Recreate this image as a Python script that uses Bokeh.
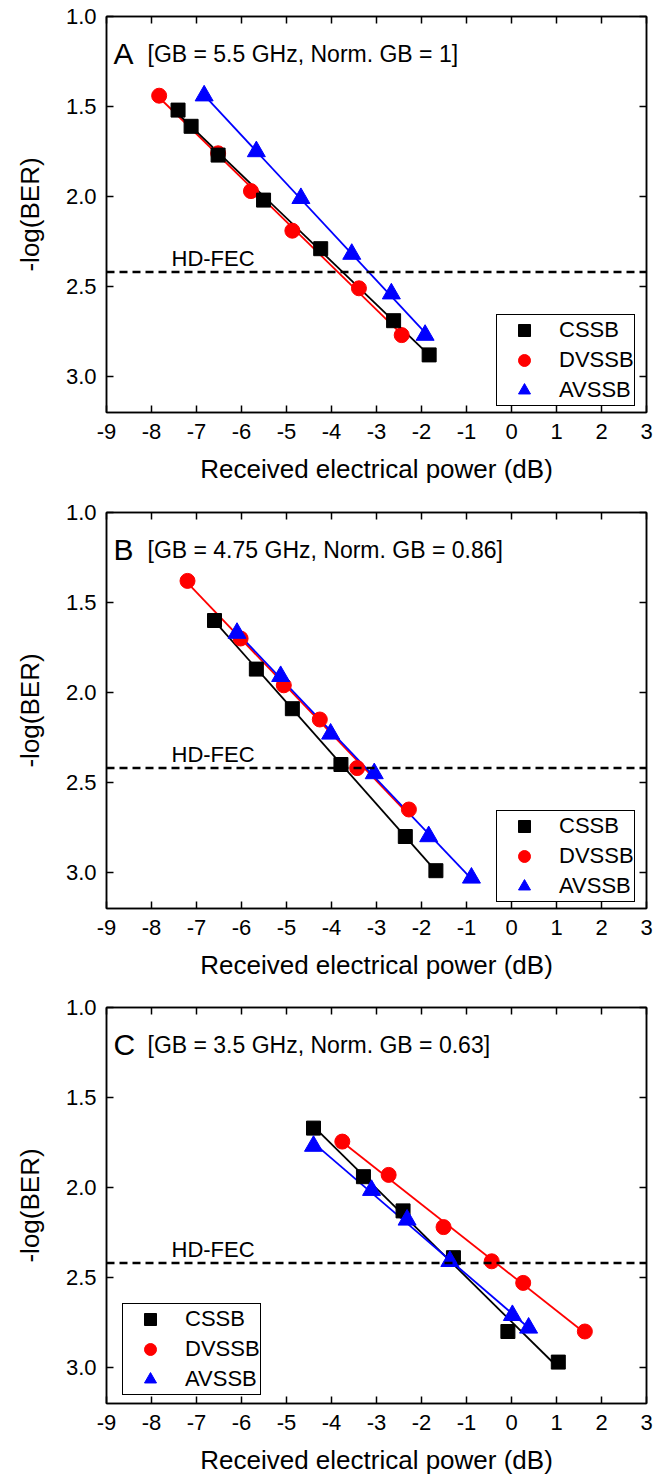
import numpy as np
from bokeh.plotting import figure
from bokeh.models import (Range1d, LinearAxis, Span, Label, Legend, LegendItem,
                          FixedTicker, NumeralTickFormatter, CustomJSTickFormatter)
from bokeh.layouts import column
from bokeh.embed import file_html
from bokeh.resources import INLINE

FONT = "Liberation Sans"

x_ticks = [-9, -8, -7, -6, -5, -4, -3, -2, -1, 0, 1, 2, 3]
y_ticks = [1.0, 1.5, 2.0, 2.5, 3.0]
hd_fec_level = 2.42
hd_fec_text = "HD-FEC"
x_title = "Received electrical power (dB)"
y_title = "-log(BER)"
series_names = ["CSSB", "DVSSB", "AVSSB"]

panel_letters = ["A", "B", "C"]
panel_notes = ["[GB = 5.5 GHz, Norm. GB = 1]",
               "[GB = 4.75 GHz, Norm. GB = 0.86]",
               "[GB = 3.5 GHz, Norm. GB = 0.63]"]

# Panel A
a_cssb_x = [-7.41, -7.12, -6.52, -5.51, -4.24, -2.62, -1.83]
a_cssb_y = [1.52, 1.61, 1.77, 2.02, 2.29, 2.69, 2.88]
a_dvssb_x = [-7.83, -6.52, -5.79, -4.87, -3.39, -2.44]
a_dvssb_y = [1.44, 1.76, 1.97, 2.19, 2.51, 2.77]
a_avssb_x = [-6.83, -5.67, -4.68, -3.55, -2.67, -1.92]
a_avssb_y = [1.44, 1.75, 2.01, 2.32, 2.54, 2.77]

# Panel B
b_cssb_x = [-6.60, -5.67, -4.87, -3.79, -2.36, -1.68]
b_cssb_y = [1.60, 1.87, 2.09, 2.40, 2.80, 2.99]
b_dvssb_x = [-7.20, -6.02, -5.06, -4.26, -3.43, -2.28]
b_dvssb_y = [1.38, 1.70, 1.96, 2.15, 2.42, 2.65]
b_avssb_x = [-6.10, -5.13, -4.02, -3.05, -1.84, -0.89]
b_avssb_y = [1.67, 1.91, 2.23, 2.45, 2.80, 3.03]

# Panel C
c_cssb_x = [-4.40, -3.29, -2.41, -1.29, -0.08, 1.04]
c_cssb_y = [1.67, 1.94, 2.13, 2.39, 2.80, 2.97]
c_dvssb_x = [-3.76, -2.73, -1.51, -0.44, 0.26, 1.63]
c_dvssb_y = [1.745, 1.93, 2.22, 2.41, 2.53, 2.80]
c_avssb_x = [-4.40, -3.11, -2.32, -1.37, 0.02, 0.38]
c_avssb_y = [1.77, 2.015, 2.18, 2.41, 2.71, 2.78]

panels = [
    dict(cssb=(a_cssb_x, a_cssb_y), dvssb=(a_dvssb_x, a_dvssb_y), avssb=(a_avssb_x, a_avssb_y)),
    dict(cssb=(b_cssb_x, b_cssb_y), dvssb=(b_dvssb_x, b_dvssb_y), avssb=(b_avssb_x, b_avssb_y)),
    dict(cssb=(c_cssb_x, c_cssb_y), dvssb=(c_dvssb_x, c_dvssb_y), avssb=(c_avssb_x, c_avssb_y)),
]

heights = [496, 495, 488]
borders_bottom = [84, 83, 76]
legend_locs = [(390, 6), (390, 6), (16, 8)]

styles = {
    "cssb": dict(color="black", marker="square", size=14),
    "dvssb": dict(color="red", marker="circle", size=15),
    "avssb": dict(color="blue", marker="triangle", size=18),
}


def style_axis(ax):
    ax.axis_line_width = 1.5
    ax.axis_line_color = "black"
    ax.major_tick_in = 7
    ax.major_tick_out = 0
    ax.major_tick_line_width = 1.5
    ax.major_tick_line_color = "black"
    ax.minor_tick_in = 0
    ax.minor_tick_out = 0
    ax.major_label_text_font = FONT
    ax.major_label_text_font_size = "22px"
    ax.major_label_text_color = "black"
    ax.axis_label_text_font = FONT
    ax.axis_label_text_font_size = "26px"
    ax.axis_label_text_font_style = "normal"
    ax.axis_label_text_color = "black"


def make_panel(i):
    data = panels[i]
    p = figure(width=666, height=heights[i],
               x_range=Range1d(-9, 3), y_range=Range1d(3.2, 1.0),
               output_backend="svg", toolbar_location=None,
               min_border_left=106, min_border_right=20,
               min_border_top=16, min_border_bottom=borders_bottom[i],
               x_axis_label=x_title, y_axis_label=y_title)
    p.xgrid.visible = False
    p.ygrid.visible = False
    p.outline_line_color = "black"
    p.outline_line_width = 1.5

    xa = p.xaxis[0]
    ya = p.yaxis[0]
    xa.ticker = FixedTicker(ticks=x_ticks)
    ya.ticker = FixedTicker(ticks=y_ticks)
    xa.formatter = CustomJSTickFormatter(code="return tick.toFixed(0)")
    ya.formatter = NumeralTickFormatter(format="0.0")
    style_axis(xa)
    style_axis(ya)
    xa.major_label_standoff = 11
    ya.major_label_standoff = 10
    xa.axis_label_standoff = 12
    ya.axis_label_standoff = 18

    blank = CustomJSTickFormatter(code="return ''")
    ra = LinearAxis(ticker=FixedTicker(ticks=y_ticks), formatter=blank)
    ta = LinearAxis(ticker=FixedTicker(ticks=x_ticks), formatter=blank)
    style_axis(ra)
    style_axis(ta)
    p.add_layout(ra, "right")
    p.add_layout(ta, "above")

    p.add_layout(Span(location=hd_fec_level, dimension="width", line_color="black",
                      line_width=2.5, line_dash="8 5"))
    p.add_layout(Label(x=65, y=154, x_units="screen", y_units="screen",
                       text=hd_fec_text, text_font=FONT,
                       text_font_size="22px", text_baseline="alphabetic",
                       text_color="black"))

    # linear fit lines
    for key in ["dvssb", "cssb", "avssb"]:
        xs, ys = data[key]
        coef = np.polyfit(xs, ys, 1)
        lx = [min(xs), max(xs)]
        ly = list(np.polyval(coef, lx))
        p.line(lx, ly, line_color=styles[key]["color"], line_width=1.8)

    rends = {}
    for key in ["dvssb", "cssb", "avssb"]:
        xs, ys = data[key]
        st = styles[key]
        rends[key] = p.scatter(xs, ys, marker=st["marker"], size=st["size"],
                               fill_color=st["color"], line_color=st["color"])

    items = [LegendItem(label=n, renderers=[rends[k]])
             for n, k in zip(series_names, ["cssb", "dvssb", "avssb"])]
    leg = Legend(items=items, location=legend_locs[i], padding=0, margin=0,
                 spacing=0, glyph_width=54, glyph_height=30, label_standoff=8,
                 label_text_font=FONT, label_text_font_size="22px",
                 label_text_color="black",
                 border_line_color="black", border_line_width=1.2,
                 border_line_alpha=1.0,
                 background_fill_color="white", background_fill_alpha=1)
    p.add_layout(leg)

    p.add_layout(Label(x=7, y=359, x_units="screen", y_units="screen",
                       text=panel_letters[i], text_font=FONT, text_font_size="30px",
                       text_baseline="alphabetic", text_color="black"))
    p.add_layout(Label(x=41, y=359, x_units="screen", y_units="screen",
                       text=panel_notes[i], text_font=FONT, text_font_size="23px",
                       text_baseline="alphabetic", text_color="black"))
    return p


figs = [make_panel(i) for i in range(3)]
layout = column(*figs, spacing=0)
open("out.html", "w").write(file_html(layout, INLINE))
